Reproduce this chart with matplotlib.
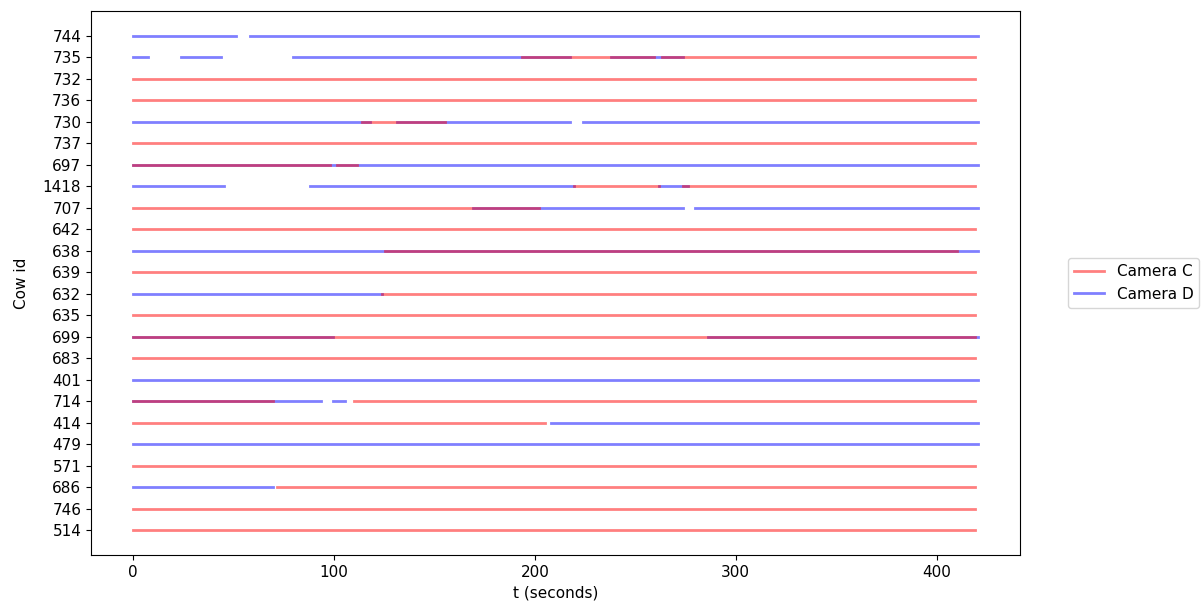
import matplotlib
matplotlib.use("Agg")
import matplotlib.pyplot as plt

plt.rcParams['font.size'] = 11

# cow ids, top to bottom
cow_ids = ['744', '735', '732', '736', '730', '737', '697', '1418', '707', '642',
           '638', '639', '632', '635', '699', '683', '401', '714', '414', '479',
           '571', '686', '746', '514']

# visible intervals (seconds) per cow, same order as cow_ids
camera_c = [
    [],
    [(193.8, 259.3), (263.5, 419)],
    [(0, 419)],
    [(0, 419)],
    [(114, 155.3)],
    [(0, 419)],
    [(0, 98), (101.5, 111.2)],
    [(219.4, 261.8), (273.5, 419)],
    [(0, 201.9)],
    [(0, 419)],
    [(125.5, 410)],
    [(0, 419)],
    [(123.8, 419)],
    [(0, 419)],
    [(0, 419)],
    [(0, 419)],
    [],
    [(0, 69.6), (109.7, 419)],
    [(0, 205.2)],
    [],
    [(0, 419)],
    [(71.4, 419)],
    [(0, 419)],
    [(0, 419)],
]

camera_d = [
    [(0, 51.3), (58, 420.5)],
    [(0, 7.2), (24, 43.8), (79.7, 217.7), (237.7, 273.5)],
    [],
    [],
    [(0, 118), (131.3, 217.7), (223.7, 420.5)],
    [],
    [(0, 420.5)],
    [(0, 45.4), (88, 219.4), (261.8, 276)],
    [(169.4, 273.5), (279.5, 420.5)],
    [],
    [(0, 420.5)],
    [],
    [(0, 123.8)],
    [],
    [(0, 99.5), (286, 420.5)],
    [],
    [(0, 420.5)],
    [(0, 93.7), (99.7, 105.5)],
    [(207.9, 420.5)],
    [(0, 420.5)],
    [],
    [(0, 69.6)],
    [],
    [],
]

fig = plt.figure(figsize=(12.04, 6.07), dpi=100)
ax = fig.add_axes([0.0756, 0.0857, 0.7716, 0.8962])

n = len(cow_ids)
label_c, label_d = 'Camera C', 'Camera D'
# camera D first so camera C sits on top where both see the cow
for i in range(n):
    y = n - 1 - i
    for s, e in camera_d[i]:
        ax.plot([s, e], [y, y], color='b', alpha=0.5, lw=2, label=label_d)
        label_d = None
for i in range(n):
    y = n - 1 - i
    for s, e in camera_c[i]:
        ax.plot([s, e], [y, y], color='r', alpha=0.5, lw=2, label=label_c)
        label_c = None

ax.set_yticks(range(n))
ax.set_yticklabels(cow_ids[::-1])
ax.set_xlabel('t (seconds)')
ax.set_ylabel('Cow id', labelpad=10)

handles, labels = ax.get_legend_handles_labels()
order = [labels.index('Camera C'), labels.index('Camera D')]
ax.legend([handles[k] for k in order], [labels[k] for k in order],
          loc='center left', bbox_to_anchor=(1.043, 0.5))

fig.savefig('out.png', dpi=100)
